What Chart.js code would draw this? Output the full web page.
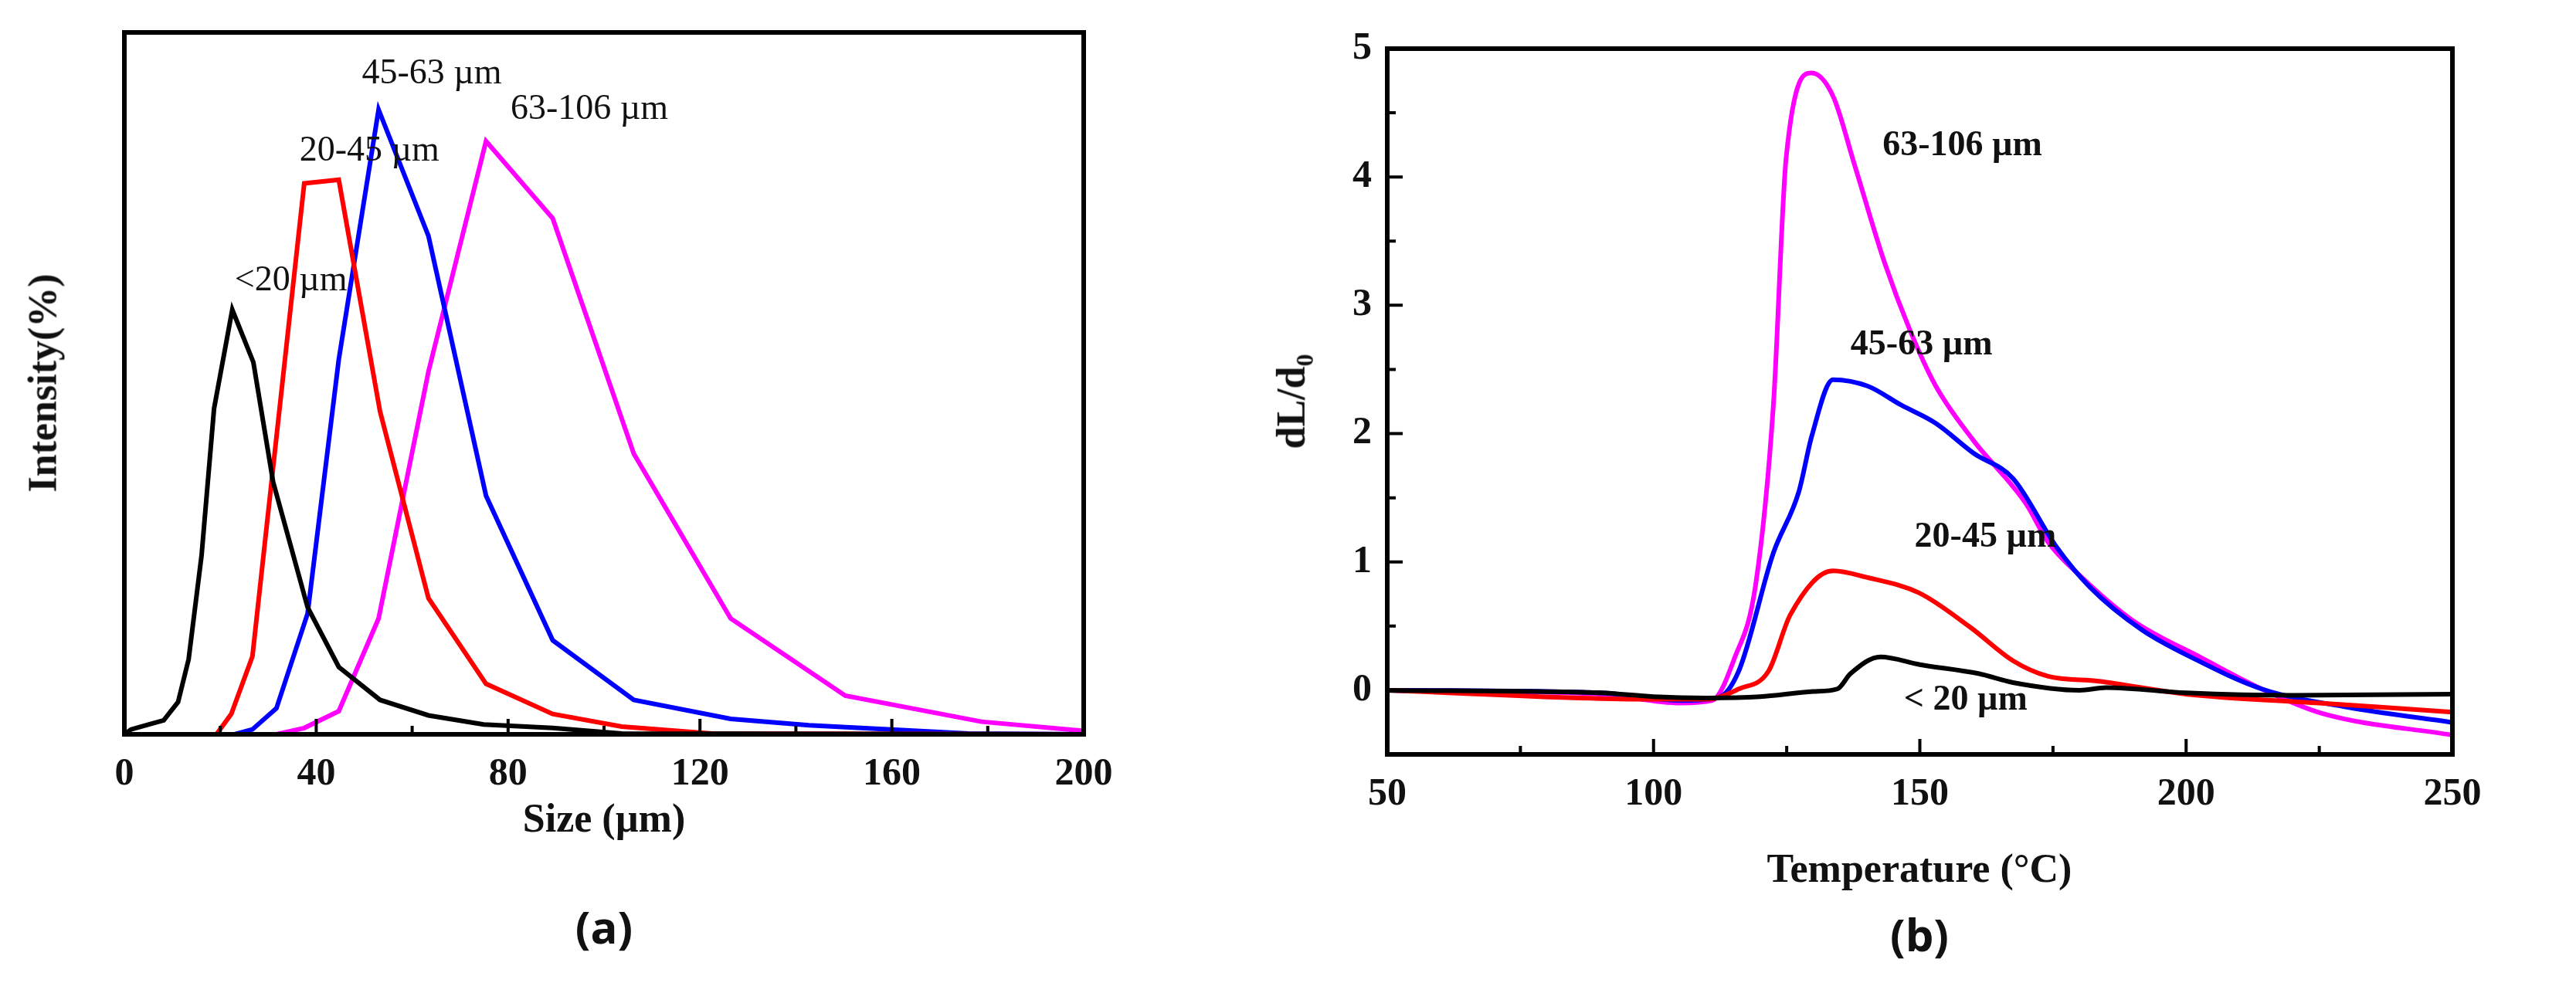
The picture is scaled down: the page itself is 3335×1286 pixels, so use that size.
<!DOCTYPE html>
<html><head><meta charset="utf-8">
<script src="https://cdn.jsdelivr.net/npm/chart.js@4/dist/chart.umd.min.js"></script>
<style>
body{margin:0;background:#fff;width:3335px;height:1286px;position:relative;overflow:hidden;font-family:"Liberation Serif",serif}
.box{position:absolute}
.t{position:absolute;font-weight:bold;white-space:nowrap;color:#111}
</style></head><body>
<div class="box" style="left:0;top:0;width:1460px;height:1286px"><canvas id="ca"></canvas></div>
<div class="box" style="left:1650px;top:0;width:1600px;height:1286px"><canvas id="cb"></canvas></div>
<div class="t" style="left:782px;top:1030px;font-size:52px;transform:translateX(-50%)">Size (µm)</div>
<div class="t" style="left:782px;top:1160px;font-size:58px;font-family:'Open Sans';transform:translateX(-50%)">(a)</div>
<div class="t" style="left:55px;top:496px;font-size:52px;transform:translate(-50%,-50%) rotate(-90deg)">Intensity(%)</div>
<div class="t" style="left:2485px;top:1095px;font-size:52px;transform:translateX(-50%)">Temperature (°C)</div>
<div class="t" style="left:2485px;top:1170px;font-size:58px;font-family:'Open Sans';transform:translateX(-50%)">(b)</div>
<div class="t" style="left:1675px;top:520px;font-size:52px;transform:translate(-50%,-50%) rotate(-90deg)">dL/d<sub style="font-size:32px">0</sub></div>
<script>
// (a) particle size distribution
const sizeBlack=[[0,0],[1.4,0.7],[5,1.4],[8.2,2],[11.2,4.6],[13.4,10.7],[16.1,25.5],[18.7,46.4],[22.5,60.5],[26.9,53],[31,36],[38.2,18.1],[44.7,9.6],[53.3,4.9],[63.4,2.7],[74.9,1.4],[89.3,0.9],[103.7,0.1],[200,0]];
const sizeRed=[[0,0],[19.2,0],[22.3,2.9],[26.7,11.1],[37.5,78.5],[44.7,79],[53.3,46],[63.4,19.4],[75.4,7.2],[89.3,2.9],[103.7,1.1],[122.5,0.1],[200,0]];
const sizeBlue=[[0,0],[23,0],[26.7,0.7],[31.7,3.7],[38.2,17.2],[44.7,53.4],[53,89],[63.4,71],[75.4,34],[89.3,13.4],[106.2,4.9],[126.4,2.2],[142.7,1.3],[162.1,0.6],[176,0.1],[200,0]];
const sizeMag=[[0,0],[31.7,0],[37.5,0.9],[44.7,3.3],[53,16.5],[63.4,51.7],[75.4,84.5],[89.3,73.5],[106.2,40],[126.4,16.5],[150.3,5.5],[178.7,1.8],[200,0.5]];
const labelsA=[['<20 µm',23,62],['20-45 µm',36.5,80.5],['45-63 µm',49.5,91.5],['63-106 µm',80.5,86.5]];
// (b) dilatometry
const tBlack=[[50,0],[90,-0.02],[100,-0.05],[110,-0.06],[120,-0.05],[130,-0.01],[134.5,0.01],[137,0.13],[142.6,0.26],[150,0.2],[161,0.13],[167.5,0.06],[180,0],[185,0.02],[200,-0.02],[220,-0.04],[250,-0.03]];
const tRed=[[50,0],[100,-0.07],[110,-0.07],[116,0.01],[121.6,0.15],[125.7,0.59],[133.7,0.93],[140,0.88],[149.8,0.76],[159.5,0.49],[167.5,0.23],[174,0.11],[183.6,0.07],[200,-0.03],[225,-0.1],[250,-0.17]];
const tBlue=[[50,0],[90,-0.02],[105,-0.08],[112,-0.06],[116,0.15],[122.5,1.07],[127.3,1.55],[129.7,1.98],[133.7,2.42],[140.2,2.37],[146.6,2.22],[153,2.08],[160,1.85],[167.5,1.65],[175.6,1.12],[182,0.8],[191.7,0.47],[201.3,0.25],[214.2,0.01],[230,-0.13],[250,-0.25]];
const tMag=[[50,0],[90,-0.03],[105,-0.1],[111,-0.08],[115.2,0.25],[119.2,0.83],[122.5,2.22],[124.9,4.15],[129.7,4.81],[133.7,4.63],[137.7,4.1],[143.4,3.33],[148.2,2.8],[153,2.37],[160,1.95],[170,1.45],[174,1.16],[180.4,0.88],[190.1,0.54],[203,0.25],[214.2,0.01],[225.5,-0.18],[250,-0.35]];
const labelsB=[['63-106 µm',143,4.1],['45-63 µm',137,2.55],['20-45 µm',149,1.05],['< 20 µm',147,-0.22]];
const colors=['#000000','#ff0000','#0000ff','#ff00ff'];

Chart.defaults.font.family='"Liberation Serif", serif';
Chart.defaults.color='#111';

function ds(arr,i,smooth){
  return {data:arr.map(p=>({x:p[0],y:p[1]})),borderColor:colors[i],borderWidth:6,pointRadius:0,
    tension:smooth?0.4:0,cubicInterpolationMode:smooth?'monotone':'default'};
}
function frame(o){
  return {id:'frame',afterDraw(c){
    const ctx=c.ctx,a=c.chartArea,sx=c.scales.x,sy=c.scales.y;
    ctx.save();ctx.strokeStyle='#000';ctx.lineWidth=6;
    ctx.strokeRect(a.left,a.top,a.right-a.left,a.bottom-a.top);
    ctx.lineWidth=4;ctx.beginPath();
    for(let v=o.x0;v<=o.x1+1e-9;v+=o.xm){
      const px=sx.getPixelForValue(v),len=(Math.round(v/o.xM*1000)%1000===0)?20:11;
      ctx.moveTo(px,a.bottom);ctx.lineTo(px,a.bottom-len);
    }
    if(o.ym){for(let v=o.y0;v<=o.y1+1e-9;v+=o.ym){
      const py=sy.getPixelForValue(v),len=(Math.abs(v-Math.round(v))<1e-6)?20:11;
      ctx.moveTo(a.left,py);ctx.lineTo(a.left+len,py);
    }}
    ctx.stroke();
    ctx.font=o.lf;ctx.fillStyle='#111';ctx.textAlign='left';ctx.textBaseline='bottom';
    o.labels.forEach(l=>ctx.fillText(l[0],sx.getPixelForValue(l[1]),sy.getPixelForValue(l[2])));
    ctx.restore();
  }};
}
const tickFont={size:50,weight:'bold'};

new Chart(document.getElementById('ca'),{type:'line',
  data:{datasets:[ds(sizeBlack,0),ds(sizeRed,1),ds(sizeBlue,2),ds(sizeMag,3)]},
  options:{responsive:true,maintainAspectRatio:false,animation:false,devicePixelRatio:1,
    layout:{padding:{top:42,right:57,bottom:0,left:0}},
    plugins:{legend:{display:false},tooltip:{enabled:false}},
    scales:{
      x:{type:'linear',min:0,max:200,grid:{display:false},border:{display:false},
        ticks:{stepSize:40,font:tickFont,padding:14,maxRotation:0},afterFit(s){s.height=1286-951;}},
      y:{min:0,max:100,grid:{display:false},border:{display:false},ticks:{display:false},afterFit(s){s.width=161;}}
    }},
  plugins:[frame({x0:0,x1:200,xm:20,xM:40,labels:labelsA,lf:'46px "Liberation Serif"'})]
});

new Chart(document.getElementById('cb'),{type:'line',
  data:{datasets:[ds(tBlack,0,1),ds(tRed,1,1),ds(tBlue,2,1),ds(tMag,3,1)]},
  options:{responsive:true,maintainAspectRatio:false,animation:false,devicePixelRatio:1,
    layout:{padding:{top:63,right:75,bottom:0,left:0}},
    plugins:{legend:{display:false},tooltip:{enabled:false}},
    scales:{
      x:{type:'linear',min:50,max:250,grid:{display:false},border:{display:false},
        ticks:{stepSize:50,font:tickFont,padding:14,maxRotation:0},afterFit(s){s.height=1286-977;}},
      y:{min:-0.5,max:5,grid:{display:false},border:{display:false},
        ticks:{stepSize:1,font:tickFont,padding:12,callback:v=>Number.isInteger(v)?v:''},afterFit(s){s.width=146;}}
    }},
  plugins:[frame({x0:50,x1:250,xm:25,xM:50,y0:0,y1:5,ym:0.5,labels:labelsB,lf:'bold 46px "Liberation Serif"'})]
});
</script>
</body></html>
